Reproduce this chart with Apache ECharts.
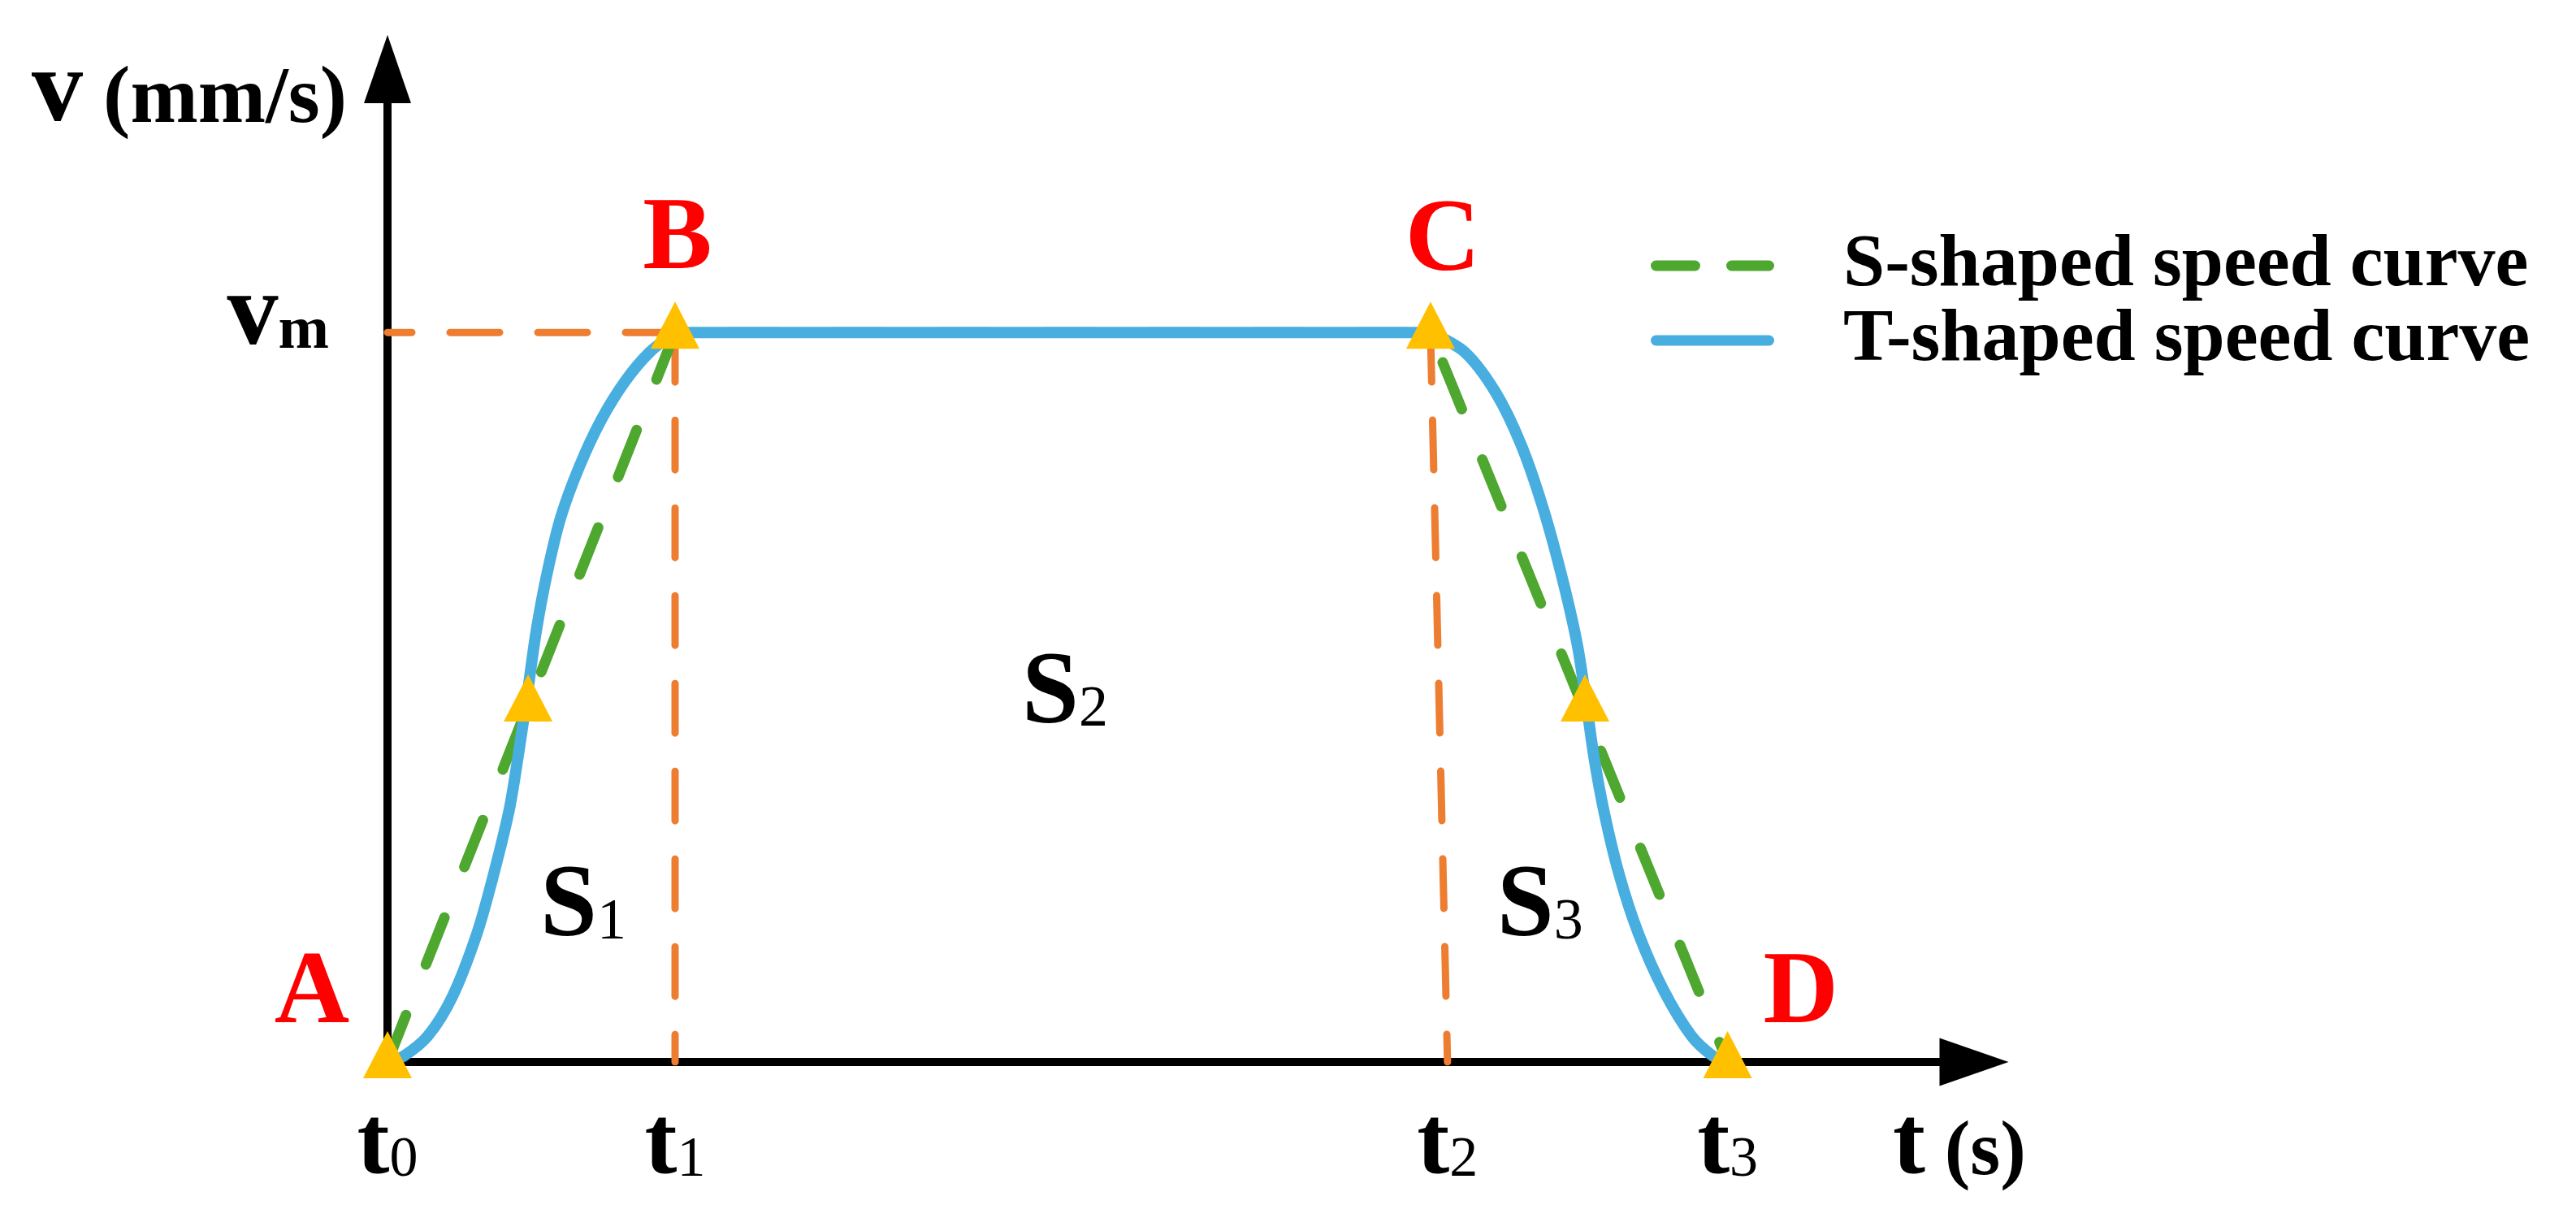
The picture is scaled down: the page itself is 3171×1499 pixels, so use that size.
<!DOCTYPE html>
<html>
<head>
<meta charset="utf-8">
<script src="https://cdn.jsdelivr.net/npm/echarts@6/dist/echarts.min.js"></script>
<style>
html,body{margin:0;padding:0;background:#ffffff;}
#chart{width:3171px;height:1499px;}
</style>
</head>
<body>
<div id="chart"></div>
<script>
// ---------- data (t in units of t1, v in units of vm) ----------
const vm = 1;
const tMarks = [0, 1, 3.627, 4.66];          // t0, t1, t2, t3
const t2Foot = 3.686;                        // foot of the (slanted) t2 guide on the t axis
const tTickLabels = [['t','0'], ['t','1'], ['t','2'], ['t','3']];
const tTickValues = [0, 1, 3.686, 4.66];
const vTickLabels = [['v','m']];
const vTickValues = [1];
const tAxisMax = 5.517;
const vAxisMax = 1.361;

// T-shaped speed curve (blue): acceleration part, cruise, deceleration part
const tAccel = [0, 0.056, 0.141, 0.226, 0.311, 0.367, 0.424, 0.460, 0.489, 0.517, 0.554, 0.602, 0.667, 0.743, 0.828, 0.912, 1];
const vAccel = [0, 0.008, 0.036, 0.090, 0.176, 0.254, 0.347, 0.434, 0.512, 0.590, 0.668, 0.746, 0.816, 0.880, 0.934, 0.973, 1];
const tCruise = [1, 3.627];
const vCruise = [1, 1];
const tDecel = [3.627, 3.746, 3.853, 3.941, 4.017, 4.082, 4.136, 4.167, 4.195, 4.232, 4.285, 4.350, 4.438, 4.534, 4.610, 4.66];
const vDecel = [1, 0.973, 0.918, 0.847, 0.761, 0.668, 0.575, 0.497, 0.419, 0.340, 0.254, 0.176, 0.098, 0.036, 0.008, 0];

// S-shaped speed curve (green dashed)
const tS = [0, 1, 3.627, 4.66];
const vS = [0, 1, 1, 0];

// key points (triangles)
const pointNames = ['A', '', 'B', 'C', '', 'D'];
const pointT = [0, 0.489, 1, 3.627, 4.164, 4.66];
const pointV = [0, 0.489, 1, 1, 0.489, 0];

// area labels
const regionNames = [['S','1'], ['S','2'], ['S','3']];
const regionT = [0.681, 2.356, 4.008];
const regionV = [0.21, 0.502, 0.21];

const seriesNames = ['S-shaped speed curve', 'T-shaped speed curve'];

// ---------- styling / layout ----------
const FONT = "'Times New Roman', 'Liberation Serif', serif";
const BLUE = '#48AEE0', GREEN = '#4EA72E', ORANGE = '#ED7D31', GOLD = '#FFC000', RED = '#FF0000';
const pointLabelOffset = [[-93, -73], null, [3, -103], [15, -101], null, [90, -73]];
const ICON_DASHED = 'path://M6.5,0H54.5A6.5,6.5,0,0,1,54.5,13H6.5A6.5,6.5,0,0,1,6.5,0Z' +
                    'M99.5,0H145.5A6.5,6.5,0,0,1,145.5,13H99.5A6.5,6.5,0,0,1,99.5,0Z';
const ICON_SOLID = 'path://M6.5,0H145.5A6.5,6.5,0,0,1,145.5,13H6.5A6.5,6.5,0,0,1,6.5,0Z';

const zip = (a, b) => a.map((x, i) => [x, b[i]]);

// big glyph + smaller glyph sharing one baseline (tokens bottom-aligned, small one lifted)
function bigSub(big, bigW, sub, subW) {
  const lift = Math.round(0.1625 * (big - sub));
  return {
    b: { fontFamily: FONT, fontSize: big, fontWeight: bigW, verticalAlign: 'bottom', color: '#000000', opacity: 1 },
    s: { fontFamily: FONT, fontSize: sub, fontWeight: subW, verticalAlign: 'bottom', color: '#000000', opacity: 1, padding: [0, 0, lift, 0] }
  };
}
function nearestIndex(arr, v) {
  let best = 0;
  arr.forEach((x, i) => { if (Math.abs(x - v) < Math.abs(arr[best] - v)) best = i; });
  return best;
}

const chart = echarts.init(document.getElementById('chart'), null, { renderer: 'canvas' });

const guideStyle = { color: ORANGE, width: 9, type: [61, 47], cap: 'round' };
function guide(data) {
  return { type: 'line', data: data, symbol: 'none', silent: true, z: 1, lineStyle: guideStyle, animation: false };
}

const option = {
  backgroundColor: '#ffffff',
  animation: false,
  grid: { left: 477, right: 741, top: 85, bottom: 192, containLabel: false, outerBoundsMode: 'none' },
  legend: {
    orient: 'vertical', left: 2032, top: 281, padding: 0, itemGap: 0,
    itemWidth: 152, itemHeight: 13,
    textStyle: { fontFamily: FONT, fontSize: 92, fontWeight: 'bold', color: '#000', lineHeight: 57, padding: [0, 0, 0, 80] },
    data: [
      { name: seriesNames[0], icon: ICON_DASHED, itemStyle: { color: GREEN, borderWidth: 0 } },
      { name: seriesNames[1], icon: ICON_SOLID, itemStyle: { color: BLUE, borderWidth: 0 } }
    ],
    selectedMode: false
  },
  xAxis: {
    type: 'value', min: 0, max: tAxisMax,
    axisLine: { show: true, onZero: false, symbol: ['none', 'triangle'], symbolSize: [59, 85], lineStyle: { color: '#000', width: 10 } },
    axisTick: { show: false },
    splitLine: { show: false },
    axisLabel: {
      customValues: tTickValues, showMinLabel: true, showMaxLabel: true, margin: 45,
      formatter: function (v) { const l = tTickLabels[nearestIndex(tTickValues, v)]; return '{b|' + l[0] + '}{s|' + l[1] + '}'; },
      rich: bigSub(120, 'bold', 70, 'normal')
    },
    name: '{b|t}{s| (s)}',
    nameLocation: 'end', nameGap: -100, nameMoveOverlap: false,
    nameTextStyle: { align: 'left', verticalAlign: 'top', padding: [45, 0, 0, 0], rich: bigSub(120, 'bold', 95, 'bold') }
  },
  yAxis: {
    type: 'value', min: 0, max: vAxisMax,
    axisLine: { show: true, onZero: false, symbol: ['none', 'triangle'], symbolSize: [58, 84], lineStyle: { color: '#000', width: 10 } },
    axisTick: { show: false },
    splitLine: { show: false },
    axisLabel: {
      customValues: vTickValues, showMinLabel: true, showMaxLabel: true, margin: 72,
      padding: [0, 0, 37, 0],
      formatter: function (v) { const l = vTickLabels[nearestIndex(vTickValues, v)]; return '{b|' + l[0] + '}{s|' + l[1] + '}'; },
      rich: bigSub(126, 'bold', 75, 'bold')
    },
    name: '{b|v}{s| (mm/s)}',
    nameLocation: 'end', nameGap: -93, nameMoveOverlap: false,
    nameTextStyle: { align: 'right', verticalAlign: 'bottom', padding: [0, 50, 0, 0], rich: bigSub(126, 'bold', 100, 'bold') }
  },
  series: [
    guide([[tMarks[1], vm], [tMarks[0], vm]]),
    guide([[tMarks[1], vm], [tMarks[1], 0]]),
    guide([[tMarks[2], vm], [t2Foot, 0]]),
    {
      type: 'line', name: seriesNames[0], data: zip(tS, vS), symbol: 'none', z: 2, silent: true,
      lineStyle: { color: GREEN, width: 13, type: [62, 67], cap: 'round' },
      itemStyle: { color: GREEN }
    },
    {
      type: 'line', name: seriesNames[1], data: zip(tAccel, vAccel), symbol: 'none', smooth: 0.3, z: 3, silent: true,
      lineStyle: { color: BLUE, width: 14, cap: 'round' }, itemStyle: { color: BLUE }
    },
    {
      type: 'line', name: seriesNames[1], data: zip(tCruise, vCruise), symbol: 'none', z: 3, silent: true,
      lineStyle: { color: BLUE, width: 14, cap: 'round' }, itemStyle: { color: BLUE }
    },
    {
      type: 'line', name: seriesNames[1], data: zip(tDecel, vDecel), symbol: 'none', smooth: 0.3, z: 3, silent: true,
      lineStyle: { color: BLUE, width: 14, cap: 'round' }, itemStyle: { color: BLUE }
    },
    {
      type: 'scatter', name: 'points', z: 5, silent: true,
      symbol: 'triangle', symbolSize: [60, 58], symbolOffset: [0, -9],
      itemStyle: { color: GOLD, opacity: 1 },
      data: pointT.map((t, i) => ({
        value: [t, pointV[i]],
        label: pointLabelOffset[i] ? { show: true, offset: pointLabelOffset[i] } : { show: false }
      })),
      label: {
        position: 'inside', color: RED, fontFamily: FONT, fontSize: 128, fontWeight: 'bold', textBorderWidth: 0,
        formatter: function (p) { return pointNames[p.dataIndex]; }
      }
    },
    {
      type: 'scatter', name: 'regions', z: 6, silent: true,
      symbol: 'circle', symbolSize: 1, itemStyle: { color: '#ffffff', opacity: 1 },
      data: zip(regionT, regionV),
      label: {
        show: true, position: 'inside', color: '#000000', opacity: 1, textBorderWidth: 0,
        formatter: function (p) { const r = regionNames[p.dataIndex]; return '{b|' + r[0] + '}{s|' + r[1] + '}'; },
        rich: bigSub(126, 'bold', 72, 'normal')
      }
    }
  ]
};
chart.setOption(option);
</script>
</body>
</html>
